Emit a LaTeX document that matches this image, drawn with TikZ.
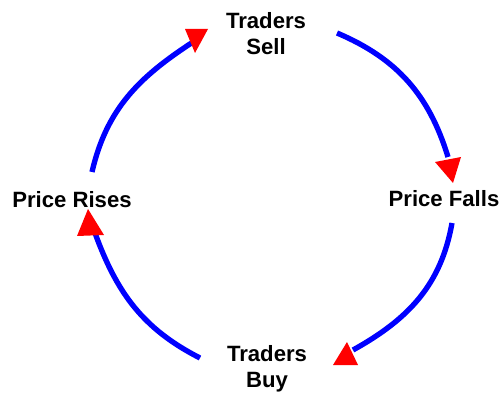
\documentclass[tikz,border=0pt]{standalone}
\usepackage{fontspec}
\setmainfont{Liberation Sans}
\usepackage{tikz}

\begin{document}
\begin{tikzpicture}[x=0.75pt, y=0.75pt,
  every node/.style={font=\bfseries\fontsize{16.6}{19.5}\selectfont, align=center, inner sep=0pt},
  arc/.style={draw=blue, line width=4pt},
  head/.style={fill=red}]
  \useasboundingbox (0,0) rectangle (503,393);
  \node (sell) at (266,359) {Traders\\Sell};
  \node (falls) at (444,194) {Price Falls};
  \node (buy) at (267,24) {Traders\\Buy};
  \node (rises) at (72,193) {Price Rises};
  \coordinate (a1) at (92,221); \coordinate (a2) at (193,351);
  \coordinate (b1) at (337,360); \coordinate (b2) at (448,236);
  \coordinate (c1) at (452,170); \coordinate (c2) at (353,43);
  \coordinate (d1) at (200,35); \coordinate (d2) at (95,160);
  \draw[arc] (a1) to[out=77,in=213] (a2);
  \draw[arc] (b1) to[out=-23,in=107] (b2);
  \draw[arc] (c1) to[out=-100,in=29] (c2);
  \draw[arc] (d1) to[out=153,in=-70] (d2);
  \fill[head] (185,364) -- (208,364) -- (195,340) -- cycle;
  \fill[head] (435,231) -- (461,236) -- (453,210) -- cycle;
  \fill[head] (347,51) -- (333,28) -- (358,28) -- cycle;
  \fill[head] (88,184) -- (77,157) -- (104,158) -- cycle;
\end{tikzpicture}
\end{document}
